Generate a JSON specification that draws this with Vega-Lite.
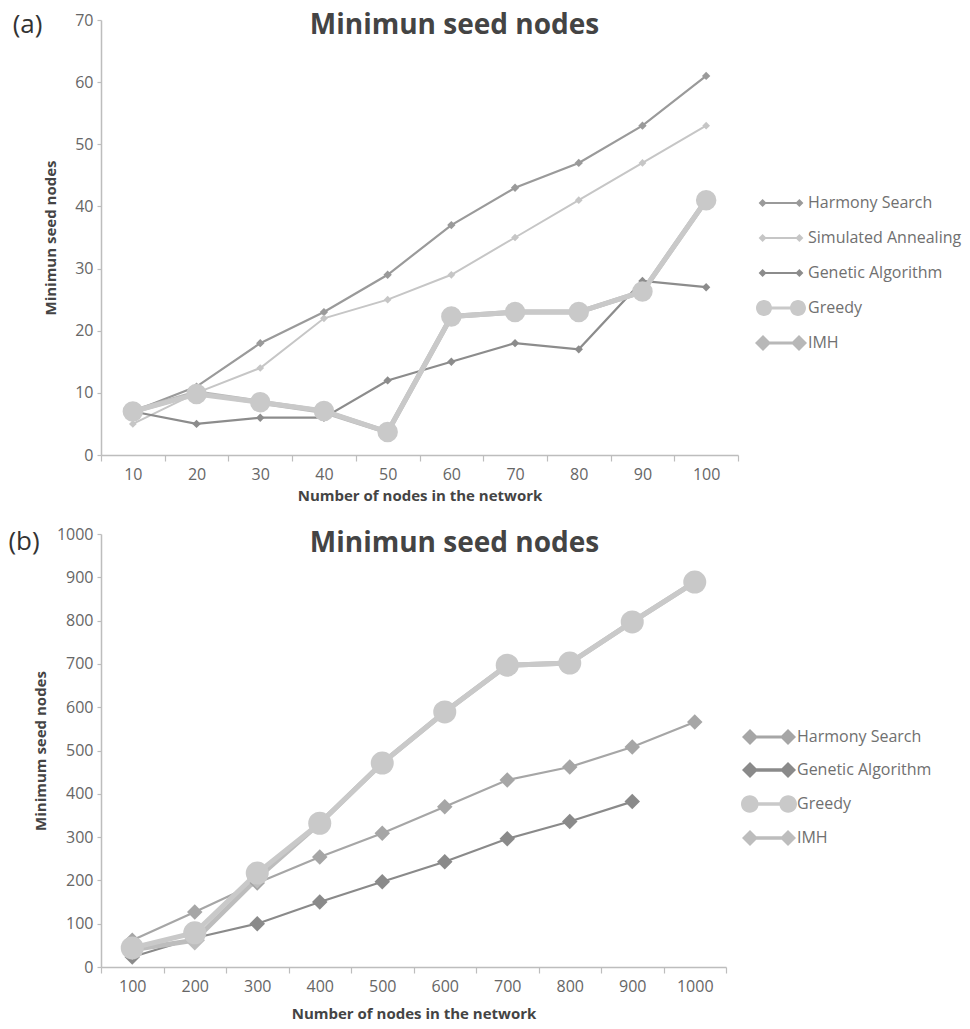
{
  "$schema": "https://vega.github.io/schema/vega-lite/v6.json",
  "padding": {"left": 8, "top": 12, "right": 5, "bottom": 5},
  "datasets": {
    "a": [
      {"n": 10, "series": "Harmony Search", "v": 7}, {"n": 20, "series": "Harmony Search", "v": 11}, {"n": 30, "series": "Harmony Search", "v": 18}, {"n": 40, "series": "Harmony Search", "v": 23}, {"n": 50, "series": "Harmony Search", "v": 29}, {"n": 60, "series": "Harmony Search", "v": 37}, {"n": 70, "series": "Harmony Search", "v": 43}, {"n": 80, "series": "Harmony Search", "v": 47}, {"n": 90, "series": "Harmony Search", "v": 53}, {"n": 100, "series": "Harmony Search", "v": 61},
      {"n": 10, "series": "Simulated Annealing", "v": 5}, {"n": 20, "series": "Simulated Annealing", "v": 10}, {"n": 30, "series": "Simulated Annealing", "v": 14}, {"n": 40, "series": "Simulated Annealing", "v": 22}, {"n": 50, "series": "Simulated Annealing", "v": 25}, {"n": 60, "series": "Simulated Annealing", "v": 29}, {"n": 70, "series": "Simulated Annealing", "v": 35}, {"n": 80, "series": "Simulated Annealing", "v": 41}, {"n": 90, "series": "Simulated Annealing", "v": 47}, {"n": 100, "series": "Simulated Annealing", "v": 53},
      {"n": 10, "series": "Genetic Algorithm", "v": 7}, {"n": 20, "series": "Genetic Algorithm", "v": 5}, {"n": 30, "series": "Genetic Algorithm", "v": 6}, {"n": 40, "series": "Genetic Algorithm", "v": 6}, {"n": 50, "series": "Genetic Algorithm", "v": 12}, {"n": 60, "series": "Genetic Algorithm", "v": 15}, {"n": 70, "series": "Genetic Algorithm", "v": 18}, {"n": 80, "series": "Genetic Algorithm", "v": 17}, {"n": 90, "series": "Genetic Algorithm", "v": 28}, {"n": 100, "series": "Genetic Algorithm", "v": 27},
      {"n": 10, "series": "IMH", "v": 7}, {"n": 20, "series": "IMH", "v": 10}, {"n": 30, "series": "IMH", "v": 8.5}, {"n": 40, "series": "IMH", "v": 7}, {"n": 50, "series": "IMH", "v": 3.7}, {"n": 60, "series": "IMH", "v": 22.3}, {"n": 70, "series": "IMH", "v": 23}, {"n": 80, "series": "IMH", "v": 23}, {"n": 90, "series": "IMH", "v": 26.3}, {"n": 100, "series": "IMH", "v": 41},
      {"n": 10, "series": "Greedy", "v": 7}, {"n": 20, "series": "Greedy", "v": 9.8}, {"n": 30, "series": "Greedy", "v": 8.5}, {"n": 40, "series": "Greedy", "v": 7.1}, {"n": 50, "series": "Greedy", "v": 3.7}, {"n": 60, "series": "Greedy", "v": 22.3}, {"n": 70, "series": "Greedy", "v": 23}, {"n": 80, "series": "Greedy", "v": 23}, {"n": 90, "series": "Greedy", "v": 26.3}, {"n": 100, "series": "Greedy", "v": 41}
    ],
    "b": [
      {"n": 100, "series": "Harmony Search", "v": 62}, {"n": 200, "series": "Harmony Search", "v": 127}, {"n": 300, "series": "Harmony Search", "v": 194}, {"n": 400, "series": "Harmony Search", "v": 254}, {"n": 500, "series": "Harmony Search", "v": 309}, {"n": 600, "series": "Harmony Search", "v": 370}, {"n": 700, "series": "Harmony Search", "v": 432}, {"n": 800, "series": "Harmony Search", "v": 462}, {"n": 900, "series": "Harmony Search", "v": 508}, {"n": 1000, "series": "Harmony Search", "v": 566},
      {"n": 100, "series": "Genetic Algorithm", "v": 23}, {"n": 200, "series": "Genetic Algorithm", "v": 67}, {"n": 300, "series": "Genetic Algorithm", "v": 100}, {"n": 400, "series": "Genetic Algorithm", "v": 150}, {"n": 500, "series": "Genetic Algorithm", "v": 197}, {"n": 600, "series": "Genetic Algorithm", "v": 243}, {"n": 700, "series": "Genetic Algorithm", "v": 296}, {"n": 800, "series": "Genetic Algorithm", "v": 336}, {"n": 900, "series": "Genetic Algorithm", "v": 382},
      {"n": 100, "series": "IMH", "v": 40}, {"n": 200, "series": "IMH", "v": 62}, {"n": 300, "series": "IMH", "v": 205}, {"n": 400, "series": "IMH", "v": 332}, {"n": 500, "series": "IMH", "v": 471}, {"n": 600, "series": "IMH", "v": 589}, {"n": 700, "series": "IMH", "v": 697}, {"n": 800, "series": "IMH", "v": 702}, {"n": 900, "series": "IMH", "v": 797}, {"n": 1000, "series": "IMH", "v": 889},
      {"n": 100, "series": "Greedy", "v": 44}, {"n": 200, "series": "Greedy", "v": 79}, {"n": 300, "series": "Greedy", "v": 217}, {"n": 400, "series": "Greedy", "v": 332}, {"n": 500, "series": "Greedy", "v": 471}, {"n": 600, "series": "Greedy", "v": 589}, {"n": 700, "series": "Greedy", "v": 697}, {"n": 800, "series": "Greedy", "v": 702}, {"n": 900, "series": "Greedy", "v": 797}, {"n": 1000, "series": "Greedy", "v": 889}
    ]
  },
  "spacing": 23,
  "vconcat": [
    {
      "title": {"text": "(a)", "anchor": "start", "frame": "bounds", "font": "Open Sans", "fontSize": 26, "fontWeight": "normal", "color": "#333333", "offset": -26, "dx": -31},
      "vconcat": [
        {
          "width": 637,
          "height": 435,
          "data": {"name": "a"},
          "title": {"text": "Minimun seed nodes", "font": "Open Sans", "fontSize": 28, "fontWeight": "bold", "color": "#444444", "frame": "group", "anchor": "middle", "dx": 35, "offset": -28},
          "encoding": {
            "x": {"field": "n", "type": "ordinal", "bandPosition": 0.5, "scale": {"type": "band", "paddingInner": 0, "paddingOuter": 0}, "axis": {"title": "Number of nodes in the network", "labelAngle": 0, "tickBand": "extent", "tickSize": 6, "labelPadding": 5, "titlePadding": 6}},
            "y": {"field": "v", "type": "quantitative", "scale": {"domain": [0, 70]}, "axis": {"values": [0, 10, 20, 30, 40, 50, 60, 70], "title": "Minimun seed nodes", "tickSize": 4, "labelPadding": 4, "titlePadding": 16}}
          },
          "layer": [
            {
              "layer": [
                {
                  "mark": {"type": "line"},
                  "encoding": {
                    "color": {"field": "series", "type": "nominal", "scale": {"domain": ["Harmony Search", "Simulated Annealing", "Genetic Algorithm", "Greedy", "IMH"], "range": ["#9a9a9a", "#c6c6c6", "#8c8c8c", "#c9c9c9", "#b8b8b8"]}, "legend": null},
                    "strokeWidth": {"field": "series", "type": "nominal", "scale": {"type": "ordinal", "domain": ["Harmony Search", "Simulated Annealing", "Genetic Algorithm", "Greedy", "IMH"], "range": [2.2, 2, 2.2, 5, 5]}, "legend": null}
                  }
                },
                {
                  "mark": {"type": "point", "filled": true, "opacity": 1},
                  "encoding": {
                    "color": {"field": "series", "type": "nominal", "scale": {"domain": ["Harmony Search", "Simulated Annealing", "Genetic Algorithm", "Greedy", "IMH"], "range": ["#9a9a9a", "#c6c6c6", "#8c8c8c", "#c9c9c9", "#b8b8b8"]}, "legend": null},
                    "shape": {"field": "series", "type": "nominal", "scale": {"domain": ["Harmony Search", "Simulated Annealing", "Genetic Algorithm", "Greedy", "IMH"], "range": ["diamond", "diamond", "diamond", "circle", "diamond"]}, "legend": null},
                    "size": {"field": "series", "type": "nominal", "scale": {"type": "ordinal", "domain": ["Harmony Search", "Simulated Annealing", "Genetic Algorithm", "Greedy", "IMH"], "range": [70, 60, 70, 420, 330]}, "legend": null}
                  }
                }
              ]
            },
            {
              "transform": [{"filter": "datum.v < 0"}],
              "mark": {"type": "point", "filled": true, "opacity": 1},
              "encoding": {
                "color": {"field": "series", "type": "nominal", "scale": {"domain": ["Harmony Search", "Simulated Annealing", "Genetic Algorithm", "Greedy", "IMH"], "range": ["#9a9a9a", "#c6c6c6", "#8c8c8c", "#c9c9c9", "#b8b8b8"]},
                  "legend": {"orient": "none", "legendX": 672, "legendY": 175, "padding": 0, "title": null, "symbolSize": 64, "symbolOpacity": 1, "symbolStrokeWidth": 0, "labelOffset": 19, "labelFontSize": 16, "labelColor": "#707070", "labelFont": "Open Sans", "rowPadding": 19}},
                "shape": {"field": "series", "type": "nominal", "scale": {"domain": ["Harmony Search", "Simulated Annealing", "Genetic Algorithm", "Greedy", "IMH"], "range": [
                  "M-5.6,0L-4.6,-1L-3.6,0L-4.6,1Z M3.6,0L4.6,-1L5.6,0L4.6,1Z M-4.6,-0.28L4.6,-0.28L4.6,0.28L-4.6,0.28Z",
                  "M-5.6,0L-4.6,-1L-3.6,0L-4.6,1Z M3.6,0L4.6,-1L5.6,0L4.6,1Z M-4.6,-0.25L4.6,-0.25L4.6,0.25L-4.6,0.25Z",
                  "M-5.6,0L-4.6,-1L-3.6,0L-4.6,1Z M3.6,0L4.6,-1L5.6,0L4.6,1Z M-4.6,-0.28L4.6,-0.28L4.6,0.28L-4.6,0.28Z",
                  "M-6.25,0A2,2 0 1,1 -2.25,0A2,2 0 1,1 -6.25,0Z M2.25,0A2,2 0 1,1 6.25,0A2,2 0 1,1 2.25,0Z M-4.25,-0.4L4.25,-0.4L4.25,0.4L-4.25,0.4Z",
                  "M-6.5,0L-4.5,-2L-2.5,0L-4.5,2Z M2.5,0L4.5,-2L6.5,0L4.5,2Z M-4.5,-0.4L4.5,-0.4L4.5,0.4L-4.5,0.4Z"
                ]}}
              }
            }
          ],
          "resolve": {"scale": {"color": "independent", "shape": "independent", "size": "independent"}}
        }
      ]
    },
    {
      "title": {"text": "(b)", "anchor": "start", "frame": "bounds", "font": "Open Sans", "fontSize": 26, "fontWeight": "normal", "color": "#333333", "offset": -29, "dx": -25},
      "vconcat": [
        {
          "width": 625,
          "height": 433,
          "data": {"name": "b"},
          "title": {"text": "Minimun seed nodes", "font": "Open Sans", "fontSize": 28, "fontWeight": "bold", "color": "#444444", "frame": "group", "anchor": "middle", "dx": 41, "offset": -32},
          "encoding": {
            "x": {"field": "n", "type": "ordinal", "bandPosition": 0.5, "scale": {"type": "band", "paddingInner": 0, "paddingOuter": 0}, "axis": {"title": "Number of nodes in the network", "labelAngle": 0, "tickBand": "extent", "tickSize": 6, "labelPadding": 5, "titlePadding": 12}},
            "y": {"field": "v", "type": "quantitative", "scale": {"domain": [0, 1000]}, "axis": {"values": [0, 100, 200, 300, 400, 500, 600, 700, 800, 900, 1000], "format": "d", "title": "Minimum seed nodes", "tickSize": 4, "labelPadding": 4, "titlePadding": 8}}
          },
          "layer": [
            {
              "layer": [
                {
                  "mark": {"type": "line"},
                  "encoding": {
                    "color": {"field": "series", "type": "nominal", "scale": {"domain": ["Harmony Search", "Genetic Algorithm", "Greedy", "IMH"], "range": ["#a6a6a6", "#8a8a8a", "#c9c9c9", "#bdbdbd"]}, "legend": null},
                    "strokeWidth": {"field": "series", "type": "nominal", "scale": {"type": "ordinal", "domain": ["Harmony Search", "Genetic Algorithm", "Greedy", "IMH"], "range": [3, 3.5, 5, 5]}, "legend": null}
                  }
                },
                {
                  "mark": {"type": "point", "filled": true, "opacity": 1},
                  "encoding": {
                    "color": {"field": "series", "type": "nominal", "scale": {"domain": ["Harmony Search", "Genetic Algorithm", "Greedy", "IMH"], "range": ["#a6a6a6", "#8a8a8a", "#c9c9c9", "#bdbdbd"]}, "legend": null},
                    "shape": {"field": "series", "type": "nominal", "scale": {"domain": ["Harmony Search", "Genetic Algorithm", "Greedy", "IMH"], "range": ["diamond", "diamond", "circle", "diamond"]}, "legend": null},
                    "size": {"field": "series", "type": "nominal", "scale": {"type": "ordinal", "domain": ["Harmony Search", "Genetic Algorithm", "Greedy", "IMH"], "range": [240, 240, 530, 420]}, "legend": null}
                  }
                }
              ]
            },
            {
              "transform": [{"filter": "datum.v < 0"}],
              "mark": {"type": "point", "filled": true, "opacity": 1},
              "encoding": {
                "color": {"field": "series", "type": "nominal", "scale": {"domain": ["Harmony Search", "Genetic Algorithm", "Greedy", "IMH"], "range": ["#a6a6a6", "#8a8a8a", "#c9c9c9", "#bdbdbd"]},
                  "legend": {"orient": "none", "legendX": 660, "legendY": 195, "padding": 0, "title": null, "symbolSize": 64, "symbolOpacity": 1, "symbolStrokeWidth": 0, "labelOffset": 20, "labelFontSize": 16, "labelColor": "#707070", "labelFont": "Open Sans", "rowPadding": 17}},
                "shape": {"field": "series", "type": "nominal", "scale": {"domain": ["Harmony Search", "Genetic Algorithm", "Greedy", "IMH"], "range": [
                  "M-6.75,0L-4.75,-2L-2.75,0L-4.75,2Z M2.75,0L4.75,-2L6.75,0L4.75,2Z M-4.75,-0.4L4.75,-0.4L4.75,0.4L-4.75,0.4Z",
                  "M-6.75,0L-4.75,-2L-2.75,0L-4.75,2Z M2.75,0L4.75,-2L6.75,0L4.75,2Z M-4.75,-0.45L4.75,-0.45L4.75,0.45L-4.75,0.45Z",
                  "M-7,0A2.2,2.2 0 1,1 -2.6,0A2.2,2.2 0 1,1 -7,0Z M2.6,0A2.2,2.2 0 1,1 7,0A2.2,2.2 0 1,1 2.6,0Z M-4.8,-0.45L4.8,-0.45L4.8,0.45L-4.8,0.45Z",
                  "M-6.75,0L-4.75,-2L-2.75,0L-4.75,2Z M2.75,0L4.75,-2L6.75,0L4.75,2Z M-4.75,-0.45L4.75,-0.45L4.75,0.45L-4.75,0.45Z"
                ]}}
              }
            }
          ],
          "resolve": {"scale": {"color": "independent", "shape": "independent", "size": "independent"}}
        }
      ]
    }
  ],
  "config": {
    "view": {"stroke": null},
    "font": "Open Sans",
    "axis": {"grid": false, "domainColor": "#bdbdbd", "domainWidth": 1.5, "tickColor": "#bdbdbd", "tickWidth": 1.2, "labelColor": "#666666", "labelFont": "Open Sans", "labelFontSize": 16, "titleFont": "Open Sans", "titleFontSize": 15, "titleFontWeight": "bold", "titleColor": "#444444"}
  }
}
